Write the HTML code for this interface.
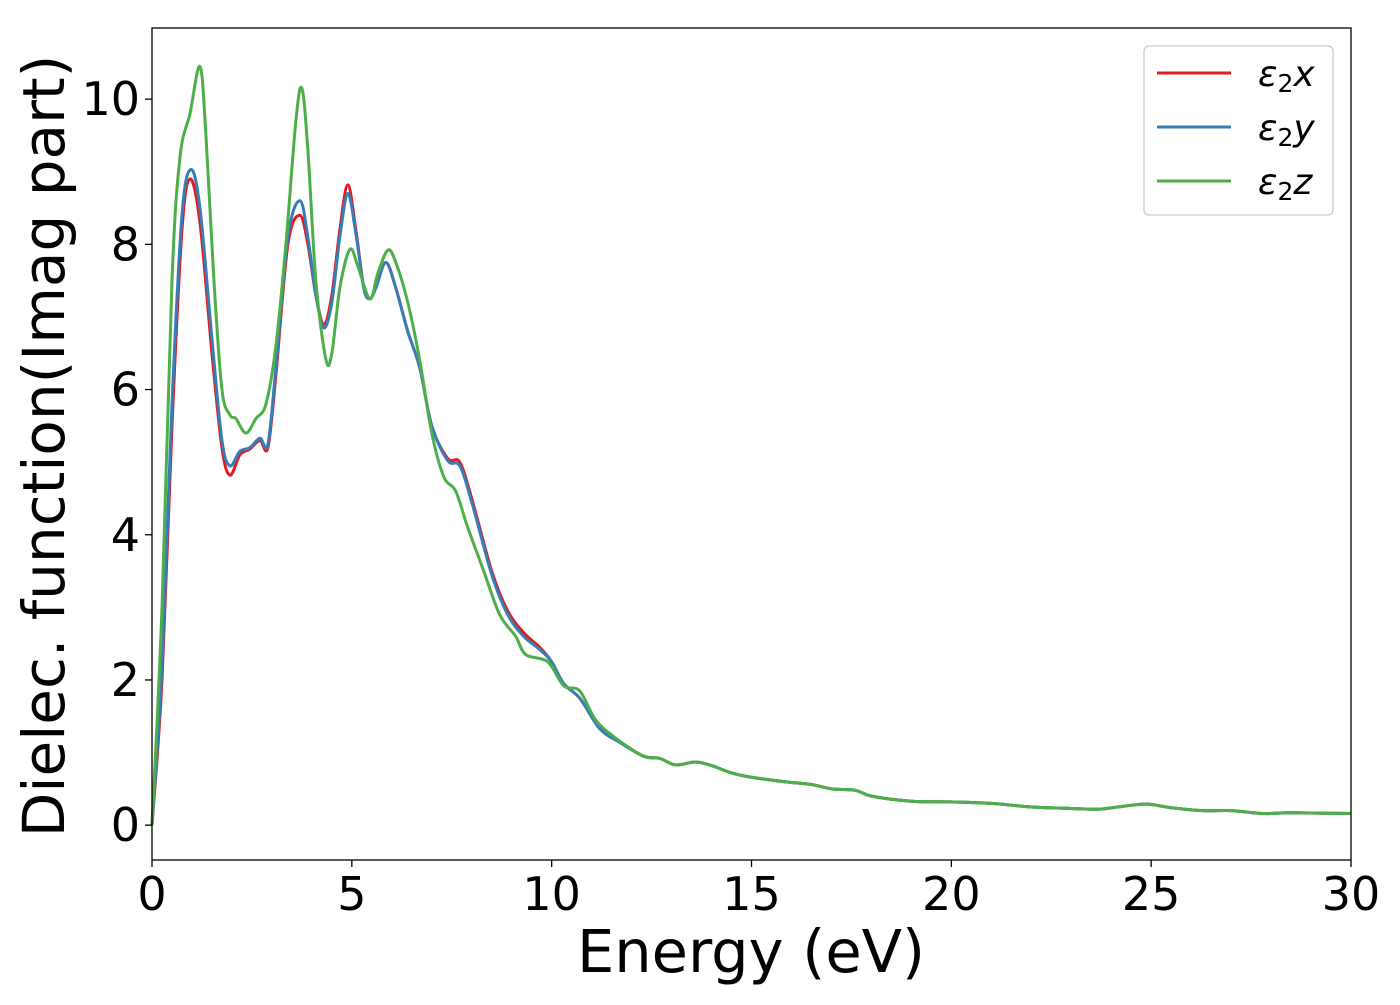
<!DOCTYPE html>
<html><head><meta charset="utf-8"><style>
body{margin:0;background:#fff;}
svg text{font-family:"DejaVu Sans","Liberation Sans",sans-serif;fill:#000;}
</style></head><body>
<svg id="chart" width="1400" height="1000">
<rect x="0" y="0" width="1400" height="1000" fill="#fff"/>
<g id="series"></g>
<rect x="152" y="28" width="1199" height="832" fill="none" stroke="#000" stroke-width="1.3"/>
<g id="axes"></g>
<text x="751" y="972" font-size="59" text-anchor="middle">Energy (eV)</text>
<text transform="translate(64,446) rotate(-90)" font-size="58" text-anchor="middle">Dielec. function(Imag part)</text>
<g>
<rect x="1144" y="46" width="189" height="169" rx="5" fill="#fff" fill-opacity="0.8" stroke="#ccc" stroke-width="1.3"/>
<line x1="1157" y1="73" x2="1231" y2="73" stroke="#e41a1c" stroke-width="3"/>
<line x1="1157" y1="127" x2="1231" y2="127" stroke="#377eb8" stroke-width="3"/>
<line x1="1157" y1="181" x2="1231" y2="181" stroke="#4daf4a" stroke-width="3"/>
<text x="1258" y="86" font-size="36" font-style="italic">ε<tspan font-style="normal" font-size="25" dy="6">2</tspan><tspan dy="-6">x</tspan></text>
<text x="1258" y="140" font-size="36" font-style="italic">ε<tspan font-style="normal" font-size="25" dy="6">2</tspan><tspan dy="-6">y</tspan></text>
<text x="1258" y="194" font-size="36" font-style="italic">ε<tspan font-style="normal" font-size="25" dy="6">2</tspan><tspan dy="-6">z</tspan></text>
</g>
</svg>
<script>
const xTicks=[0,5,10,15,20,25,30];
const yTicks=[0,2,4,6,8,10];
const tail=[[12.3,0.95],[12.7,0.92],[13.1,0.83],[13.6,0.87],[14,0.82],[14.5,0.72],[15,0.66],[15.8,0.6],[16.5,0.56],[17,0.5],[17.6,0.48],[18,0.4],[19,0.33],[20,0.32],[21,0.3],[22,0.25],[23,0.23],[23.7,0.22],[24.3,0.26],[24.9,0.29],[25.5,0.24],[26.3,0.2],[27,0.2],[27.8,0.16],[28.5,0.17],[30,0.16]];
const seriesX=[[0,0],[0.25,2],[0.5,5.5],[0.75,8.2],[0.95,8.9],[1.2,8.3],[1.5,6.5],[1.75,5.2],[1.95,4.82],[2.2,5.1],[2.45,5.18],[2.7,5.3],[2.9,5.2],[3.1,6.2],[3.4,8.0],[3.7,8.4],[3.9,8.0],[4.1,7.3],[4.3,6.9],[4.5,7.3],[4.7,8.2],[4.9,8.82],[5.1,8.2],[5.3,7.4],[5.45,7.25],[5.6,7.4],[5.85,7.75],[6.1,7.4],[6.4,6.8],[6.7,6.3],[7.0,5.5],[7.4,5.05],[7.7,5.0],[8.0,4.5],[8.5,3.5],[8.9,2.95],[9.3,2.65],[9.7,2.45],[10,2.25],[10.3,1.95],[10.7,1.75],[11.2,1.35],[11.7,1.15]].concat(tail);
const seriesY=[[0,0],[0.25,2.2],[0.5,5.8],[0.75,8.4],[0.97,9.03],[1.2,8.5],[1.5,6.7],[1.75,5.3],[1.95,4.95],[2.2,5.15],[2.45,5.2],[2.7,5.33],[2.9,5.25],[3.1,6.3],[3.4,8.1],[3.7,8.6],[3.9,8.1],[4.1,7.3],[4.3,6.85],[4.5,7.2],[4.7,8.1],[4.9,8.7],[5.1,8.15],[5.3,7.4],[5.45,7.25],[5.6,7.4],[5.85,7.75],[6.1,7.4],[6.4,6.8],[6.7,6.3],[7.0,5.5],[7.4,5.02],[7.7,4.95],[8.0,4.45],[8.5,3.45],[8.9,2.9],[9.3,2.6],[9.7,2.42],[10,2.25],[10.3,1.95],[10.7,1.75],[11.2,1.33],[11.7,1.14]].concat(tail);
const seriesZ=[[0,0],[0.25,3],[0.5,7.5],[0.7,9.2],[0.95,9.8],[1.2,10.45],[1.35,9.5],[1.55,7.5],[1.75,6.0],[1.95,5.65],[2.1,5.6],[2.35,5.4],[2.6,5.6],[2.85,5.8],[3.1,6.6],[3.35,8.0],[3.6,9.7],[3.75,10.15],[3.9,9.3],[4.1,7.5],[4.35,6.42],[4.5,6.5],[4.7,7.4],[4.95,7.93],[5.15,7.7],[5.45,7.25],[5.65,7.6],[5.9,7.92],[6.1,7.75],[6.4,7.2],[6.7,6.4],[7.0,5.4],[7.3,4.8],[7.6,4.6],[7.9,4.1],[8.3,3.5],[8.7,2.9],[9.1,2.6],[9.35,2.35],[9.9,2.25],[10.3,1.92],[10.7,1.85],[11.1,1.45],[11.6,1.2]].concat(tail);
const NS='http://www.w3.org/2000/svg';
const X0=152,X1=1351,Y0=28,Y1=860,xmin=0,xmax=30,ymin=-0.48,ymax=10.98;
function sx(v){return X0+(v-xmin)/(xmax-xmin)*(X1-X0);}
function sy(v){return Y1-(v-ymin)/(ymax-ymin)*(Y1-Y0);}
function pathFor(d){
  const p=d.map(a=>[sx(a[0]),sy(a[1])]);
  let s='M'+p[0][0]+','+p[0][1];
  for(let i=0;i<p.length-1;i++){
    const p0=p[i-1]||p[i],p1=p[i],p2=p[i+1],p3=p[i+2]||p2;
    const c1=[p1[0]+(p2[0]-p0[0])/6,p1[1]+(p2[1]-p0[1])/6];
    const c2=[p2[0]-(p3[0]-p1[0])/6,p2[1]-(p3[1]-p1[1])/6];
    s+='C'+c1[0]+','+c1[1]+' '+c2[0]+','+c2[1]+' '+p2[0]+','+p2[1];
  }
  return s;
}
const g=document.getElementById('series');
[[seriesX,'#e41a1c','line-eps2x'],[seriesY,'#377eb8','line-eps2y'],[seriesZ,'#4daf4a','line-eps2z']].forEach(s=>{
  const el=document.createElementNS(NS,'path');
  el.setAttribute('d',pathFor(s[0]));
  el.setAttribute('fill','none');el.setAttribute('stroke',s[1]);el.setAttribute('stroke-width','3');
  
  
  g.appendChild(el);
});
const ax=document.getElementById('axes');
xTicks.forEach(t=>{
  const l=document.createElementNS(NS,'line');
  l.setAttribute('x1',sx(t));l.setAttribute('x2',sx(t));l.setAttribute('y1',Y1);l.setAttribute('y2',Y1+7);l.setAttribute('stroke','#000');l.setAttribute('stroke-width','1.3');
  
  
  ax.appendChild(l);
  const tx=document.createElementNS(NS,'text');
  tx.setAttribute('x',sx(t));tx.setAttribute('y',910);tx.setAttribute('font-size','46');tx.setAttribute('text-anchor','middle');
  tx.textContent=t;
  
  
  ax.appendChild(tx);
});
yTicks.forEach(t=>{
  const l=document.createElementNS(NS,'line');
  l.setAttribute('x1',X0-7);l.setAttribute('x2',X0);l.setAttribute('y1',sy(t));l.setAttribute('y2',sy(t));l.setAttribute('stroke','#000');l.setAttribute('stroke-width','1.3');
  
  
  ax.appendChild(l);
  const tx=document.createElementNS(NS,'text');
  tx.setAttribute('x',140);tx.setAttribute('y',sy(t)+16);tx.setAttribute('font-size','46');tx.setAttribute('text-anchor','end');
  tx.textContent=t;
  
  
  ax.appendChild(tx);
});
</script>
</body></html>
